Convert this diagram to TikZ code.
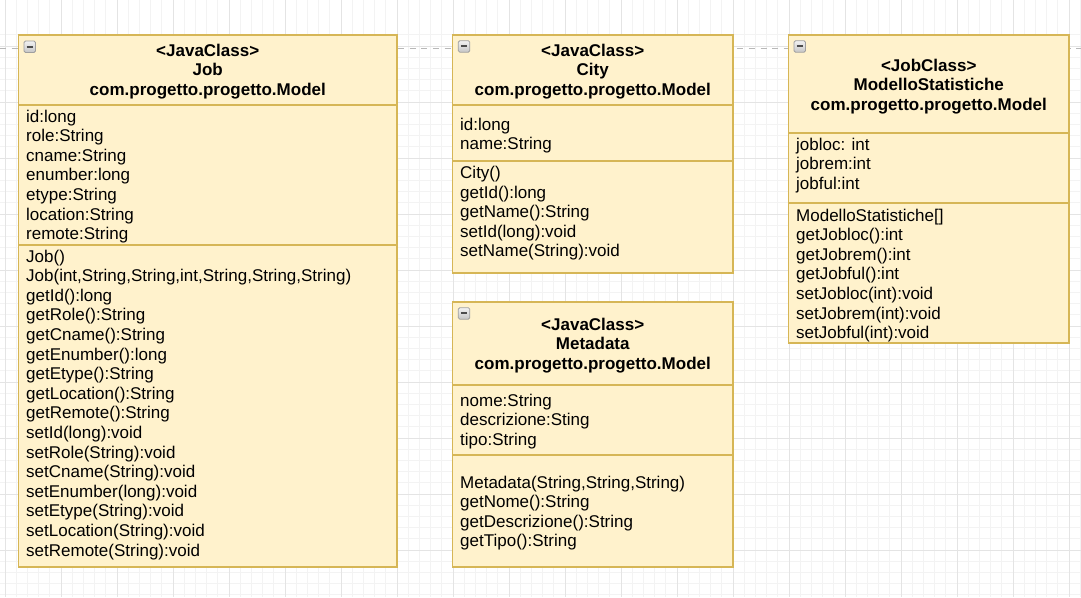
\documentclass[tikz,border=0pt]{standalone}
\usepackage{fontspec}
\setmainfont{Liberation Sans}
\definecolor{umlfill}{HTML}{FFF2CC}
\definecolor{umlstroke}{HTML}{D6B656}
\definecolor{gridmajor}{HTML}{E4E4E4}
\definecolor{gridminor}{HTML}{F3F3F3}
\definecolor{pagedash}{HTML}{B8B8B8}
\tikzset{
  classbox/.style={draw=umlstroke, fill=umlfill, line width=1.3pt},
  sepline/.style={draw=umlstroke, line width=1.3pt},
  txt/.style={anchor=base west, inner sep=0pt, font=\fontsize{17}{19.6}\selectfont},
  hdr/.style={anchor=base, inner sep=0pt, font=\fontsize{17}{19.6}\selectfont\bfseries},
  iconbox/.style={draw=gray!75, rounded corners=1.5pt, top color=gray!10, bottom color=gray!45, line width=0.8pt},
  iconbar/.style={draw=black!70, line width=2pt},
}
\newcommand{\minusicon}[2]{%
  \draw[iconbox] (#1,#2) rectangle ++(11.5,11.5);
  \draw[iconbar] (#1+2.5,#2+5.75) -- (#1+9,#2+5.75);
}
\begin{document}
\begin{tikzpicture}[x=1pt,y=-1pt]
\useasboundingbox (0,0) rectangle (1081,597);
\fill[white] (0,0) rectangle (1081,597);
% grid
\foreach \k in {0,...,97} {
  \draw[gridminor, line width=0.8pt] ({5+11.2*\k-11.2},0) -- ({5+11.2*\k-11.2},597);
}
\foreach \k in {-1,...,52} {
  \draw[gridminor, line width=0.8pt] (0,{46+11.2*\k}) -- (1081,{46+11.2*\k});
}
\foreach \k in {0,...,19} {
  \draw[gridmajor, line width=1pt] ({5+56*\k},0) -- ({5+56*\k},597);
}
\foreach \k in {-1,...,10} {
  \draw[gridmajor, line width=1pt] (0,{46+56*\k}) -- (1081,{46+56*\k});
}
% page break line
\draw[pagedash, line width=1.3pt, dash pattern=on 6pt off 5.7pt] (0,48.5) -- (1081,48.5);

% ---------- Job ----------
\draw[classbox] (18.5,35) rectangle (397,567);
\draw[sepline] (18.5,105) -- (397,105);
\draw[sepline] (18.5,245) -- (397,245);
\minusicon{24}{41}
\node[hdr] (job-h1) at (207.75,56) {<JavaClass>};
\node[hdr] (job-h2) at (207.75,75.6) {Job};
\node[hdr] (job-h3) at (207.75,95.2) {com.progetto.progetto.Model};
\foreach \t [count=\i] in {id:long,role:String,cname:String,enumber:long,etype:String,location:String,remote:String}
  \node[txt] (job-a\i) at (26,{122+19.6*(\i-1)}) {\t};
\foreach \t [count=\i] in {Job(),{Job(int,String,String,int,String,String,String)},getId():long,getRole():String,getCname():String,getEnumber():long,getEtype():String,getLocation():String,getRemote():String,setId(long):void,setRole(String):void,setCname(String):void,setEnumber(long):void,setEtype(String):void,setLocation(String):void,setRemote(String):void}
  \node[txt] (job-m\i) at (26,{262+19.6*(\i-1)}) {\t};

% ---------- City ----------
\draw[classbox] (452.5,35) rectangle (733,273);
\draw[sepline] (452.5,105) -- (733,105);
\draw[sepline] (452.5,161) -- (733,161);
\minusicon{458.3}{40.7}
\node[hdr] (city-h1) at (592.75,56) {<JavaClass>};
\node[hdr] (city-h2) at (592.75,75.6) {City};
\node[hdr] (city-h3) at (592.75,95.2) {com.progetto.progetto.Model};
\foreach \t [count=\i] in {id:long,name:String}
  \node[txt] (city-a\i) at (460,{130+19.6*(\i-1)}) {\t};
\foreach \t [count=\i] in {City(),getId():long,getName():String,setId(long):void,setName(String):void}
  \node[txt] (city-m\i) at (460,{178.5+19.6*(\i-1)}) {\t};

% ---------- Metadata ----------
\draw[classbox] (452.5,302) rectangle (733,567);
\draw[sepline] (452.5,385) -- (733,385);
\draw[sepline] (452.5,455) -- (733,455);
\minusicon{458.3}{307.7}
\node[hdr] (meta-h1) at (592.75,330) {<JavaClass>};
\node[hdr] (meta-h2) at (592.75,349.6) {Metadata};
\node[hdr] (meta-h3) at (592.75,369.2) {com.progetto.progetto.Model};
\foreach \t [count=\i] in {nome:String,descrizione:Sting,tipo:String}
  \node[txt] (meta-a\i) at (460,{406+19.6*(\i-1)}) {\t};
\foreach \t [count=\i] in {{Metadata(String,String,String)},getNome():String,getDescrizione():String,getTipo():String}
  \node[txt] (meta-m\i) at (460,{488+19.6*(\i-1)}) {\t};

% ---------- ModelloStatistiche ----------
\draw[classbox] (788.5,35) rectangle (1069,343);
\draw[sepline] (788.5,133) -- (1069,133);
\draw[sepline] (788.5,203) -- (1069,203);
\minusicon{794}{40.7}
\node[hdr] (mod-h1) at (928.75,71) {<JobClass>};
\node[hdr] (mod-h2) at (928.75,90.6) {ModelloStatistiche};
\node[hdr] (mod-h3) at (928.75,110.2) {com.progetto.progetto.Model};
\foreach \t [count=\i] in {jobloc: int,jobrem:int,jobful:int}
  \node[txt] (mod-a\i) at (796,{150+19.6*(\i-1)}) {\t};
\foreach \t [count=\i] in {ModelloStatistiche[],getJobloc():int,getJobrem():int,getJobful():int,setJobloc(int):void,setJobrem(int):void,setJobful(int):void}
  \node[txt] (mod-m\i) at (796,{221+19.6*(\i-1)}) {\t};
\end{tikzpicture}
\end{document}
